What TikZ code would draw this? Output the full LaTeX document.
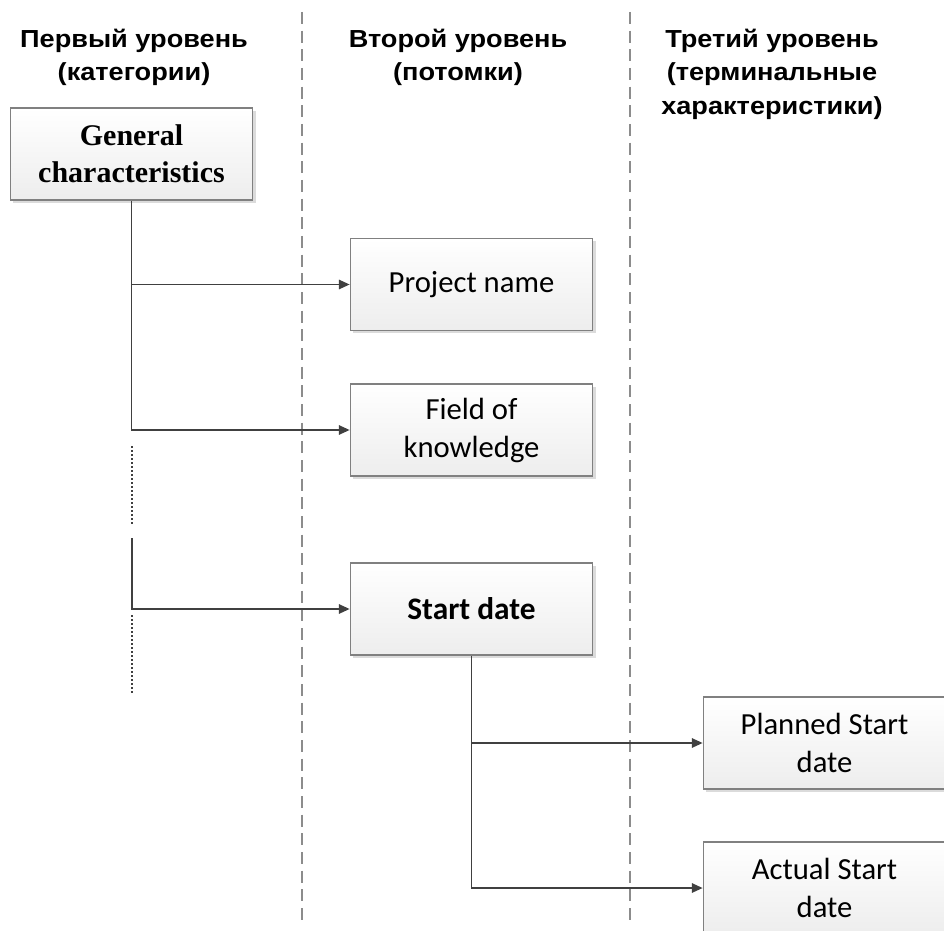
\documentclass[tikz,border=0pt]{standalone}
\usepackage{fontspec}
\setmainfont{Carlito}
\newfontfamily\headfont[FakeStretch=1.1]{Liberation Sans}
\newfontfamily\romanfont{Liberation Serif}
\usetikzlibrary{arrows.meta,shadows}

\definecolor{linecolor}{rgb}{0.25,0.25,0.25}
\definecolor{framecolor}{rgb}{0.50,0.50,0.50}
\definecolor{guidecolor}{rgb}{0.55,0.55,0.55}
\definecolor{shadecolor}{rgb}{0.93,0.93,0.93}

\tikzset{
  levelbox/.style={draw=framecolor, line width=0.8pt, top color=white, bottom color=shadecolor,
    minimum width=182pt, minimum height=69pt, inner sep=2pt, align=center,
    font=\fontsize{23}{28.5}\selectfont,
    drop shadow={shadow xshift=2pt, shadow yshift=-2pt, fill=black!14, opacity=1}},
  heading/.style={align=center, inner sep=0pt, anchor=north,
    font=\headfont\bfseries\fontsize{18.5}{25}\selectfont},
  trunk/.style={draw=linecolor, line width=1.2pt},
  link/.style={trunk, -{Triangle[length=8pt,width=7pt]}},
  divider/.style={draw=guidecolor, line width=1pt, dash pattern=on 9pt off 5pt},
  gapline/.style={draw=linecolor, line width=1.2pt, dash pattern=on 1.2pt off 1.8pt},
}

\begin{document}
\begin{tikzpicture}[x=0.75pt,y=-0.75pt]
\useasboundingbox (0,0) rectangle (944,930);
% column dividers
\draw[divider] (302,12) -- (302,925);
\draw[divider] (630,12) -- (630,925);
% level headings
\node[heading] (head1) at (134,29) {Первый уровень\\(категории)};
\node[heading] (head2) at (458,29) {Второй уровень\\(потомки)};
\node[heading] (head3) at (772,29) {Третий уровень\\(терминальные\\характеристики)};
% boxes
\node[levelbox, font=\romanfont\bfseries\fontsize{22.5}{27.75}\selectfont] (general) at (131.5,154) {General\\characteristics};
\node[levelbox] (project) at (471.5,284.5) {Project name};
\node[levelbox] (field) at (471.5,430) {Field of\\knowledge};
\node[levelbox, font=\bfseries\fontsize{23.5}{28.5}\selectfont] (start) at (471.5,609) {Start date};
\node[levelbox] (planned) at (824.5,743) {Planned Start\\date};
\node[levelbox] (actual) at (824.5,888) {Actual Start\\date};
% first level links
\draw[link] (general.south) |- (field.west);
\draw[link] (general.south |- project.west) -- (project.west);
\coordinate (branch) at (132,538);
\draw[link] (branch) |- (start.west);
% omitted entries
\coordinate (gapA) at (132,446);
\coordinate (gapB) at (132,525);
\coordinate (gapC) at (132,615);
\coordinate (gapD) at (132,693);
\draw[gapline] (gapA) -- (gapB);
\draw[gapline] (gapC) -- (gapD);
% second level links
\draw[link] (start.south) |- (actual.west);
\draw[link] (start.south |- planned.west) -- (planned.west);
\end{tikzpicture}
\end{document}
